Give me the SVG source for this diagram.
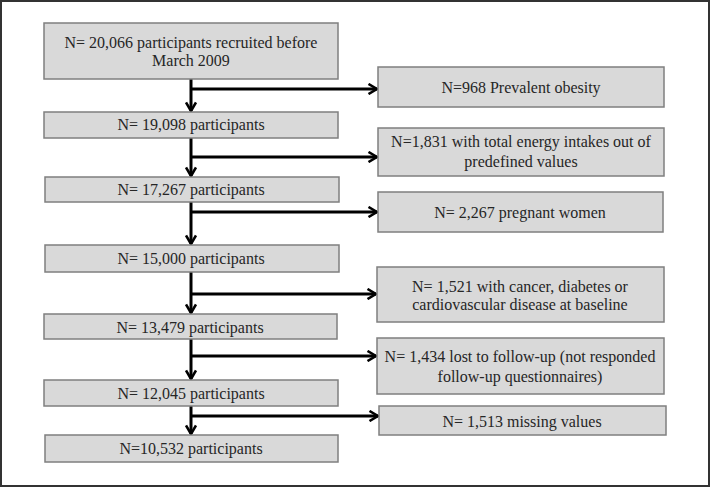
<svg xmlns="http://www.w3.org/2000/svg" width="711" height="487" viewBox="0 0 711 487">
<defs>
<style>
.box{fill:#d9d9d9;stroke:#7f7f7f;stroke-width:1.5}
.t{font-family:"Liberation Serif","Times New Roman",serif;font-size:16px;fill:#262626;text-anchor:middle}
.ln{stroke:#000;stroke-width:3;fill:none}
</style>
<marker id="ah" viewBox="0 0 12 12" refX="10" refY="6" markerWidth="12" markerHeight="12" markerUnits="userSpaceOnUse" orient="auto">
<path d="M1.5,1 L10,6 L1.5,11" fill="none" stroke="#000" stroke-width="2.6"/>
</marker>
</defs>
<rect x="1" y="1" width="708" height="485" fill="#fff" stroke="#333" stroke-width="2"/>
<g id="connectors">
<path class="ln" d="M191,79 V111" marker-end="url(#ah)"/>
<path class="ln" d="M191,138 V176" marker-end="url(#ah)"/>
<path class="ln" d="M191,202 V244" marker-end="url(#ah)"/>
<path class="ln" d="M191,272 V313" marker-end="url(#ah)"/>
<path class="ln" d="M191,339 V379" marker-end="url(#ah)"/>
<path class="ln" d="M191,406 V434" marker-end="url(#ah)"/>
<path class="ln" d="M190,89 H377" marker-end="url(#ah)"/>
<path class="ln" d="M190,157 H377" marker-end="url(#ah)"/>
<path class="ln" d="M190,212 H377" marker-end="url(#ah)"/>
<path class="ln" d="M190,294 H376" marker-end="url(#ah)"/>
<path class="ln" d="M190,356 H376" marker-end="url(#ah)"/>
<path class="ln" d="M190,416 H378" marker-end="url(#ah)"/>
</g>
<g id="n1"><rect class="box" x="44" y="23" width="294" height="56"/><text class="t" x="191" y="48">N= 20,066 participants recruited before</text><text class="t" x="191" y="66">March 2009</text></g>
<g id="n2"><rect class="box" x="44" y="112" width="294" height="26"/><text class="t" x="191" y="130">N= 19,098 participants</text></g>
<g id="n3"><rect class="box" x="45" y="177" width="294" height="25"/><text class="t" x="191" y="195">N= 17,267 participants</text></g>
<g id="n4"><rect class="box" x="45" y="245" width="294" height="27"/><text class="t" x="191" y="264">N= 15,000 participants</text></g>
<g id="n5"><rect class="box" x="44" y="314" width="293" height="25"/><text class="t" x="190" y="333">N= 13,479 participants</text></g>
<g id="n6"><rect class="box" x="44" y="380" width="294" height="26"/><text class="t" x="191" y="399">N= 12,045 participants</text></g>
<g id="n7"><rect class="box" x="45" y="435" width="293" height="27"/><text class="t" x="191" y="454">N=10,532 participants</text></g>
<g id="r1"><rect class="box" x="378" y="67" width="286" height="40"/><text class="t" x="521" y="93">N=968 Prevalent obesity</text></g>
<g id="r2"><rect class="box" x="378" y="128" width="286" height="48"/><text class="t" x="521" y="147">N=1,831 with total energy intakes out of</text><text class="t" x="521" y="167">predefined values</text></g>
<g id="r3"><rect class="box" x="378" y="192" width="285" height="40"/><text class="t" x="520" y="218">N= 2,267 pregnant women</text></g>
<g id="r4"><rect class="box" x="377" y="267" width="287" height="55"/><text class="t" x="520" y="292">N= 1,521 with cancer, diabetes or</text><text class="t" x="520" y="310">cardiovascular disease at baseline</text></g>
<g id="r5"><rect class="box" x="377" y="338" width="287" height="56"/><text class="t" x="520" y="362">N= 1,434 lost to follow-up (not responded</text><text class="t" x="520" y="382">follow-up questionnaires)</text></g>
<g id="r6"><rect class="box" x="379" y="406" width="287" height="29"/><text class="t" x="522" y="427">N= 1,513 missing values</text></g>
</svg>
